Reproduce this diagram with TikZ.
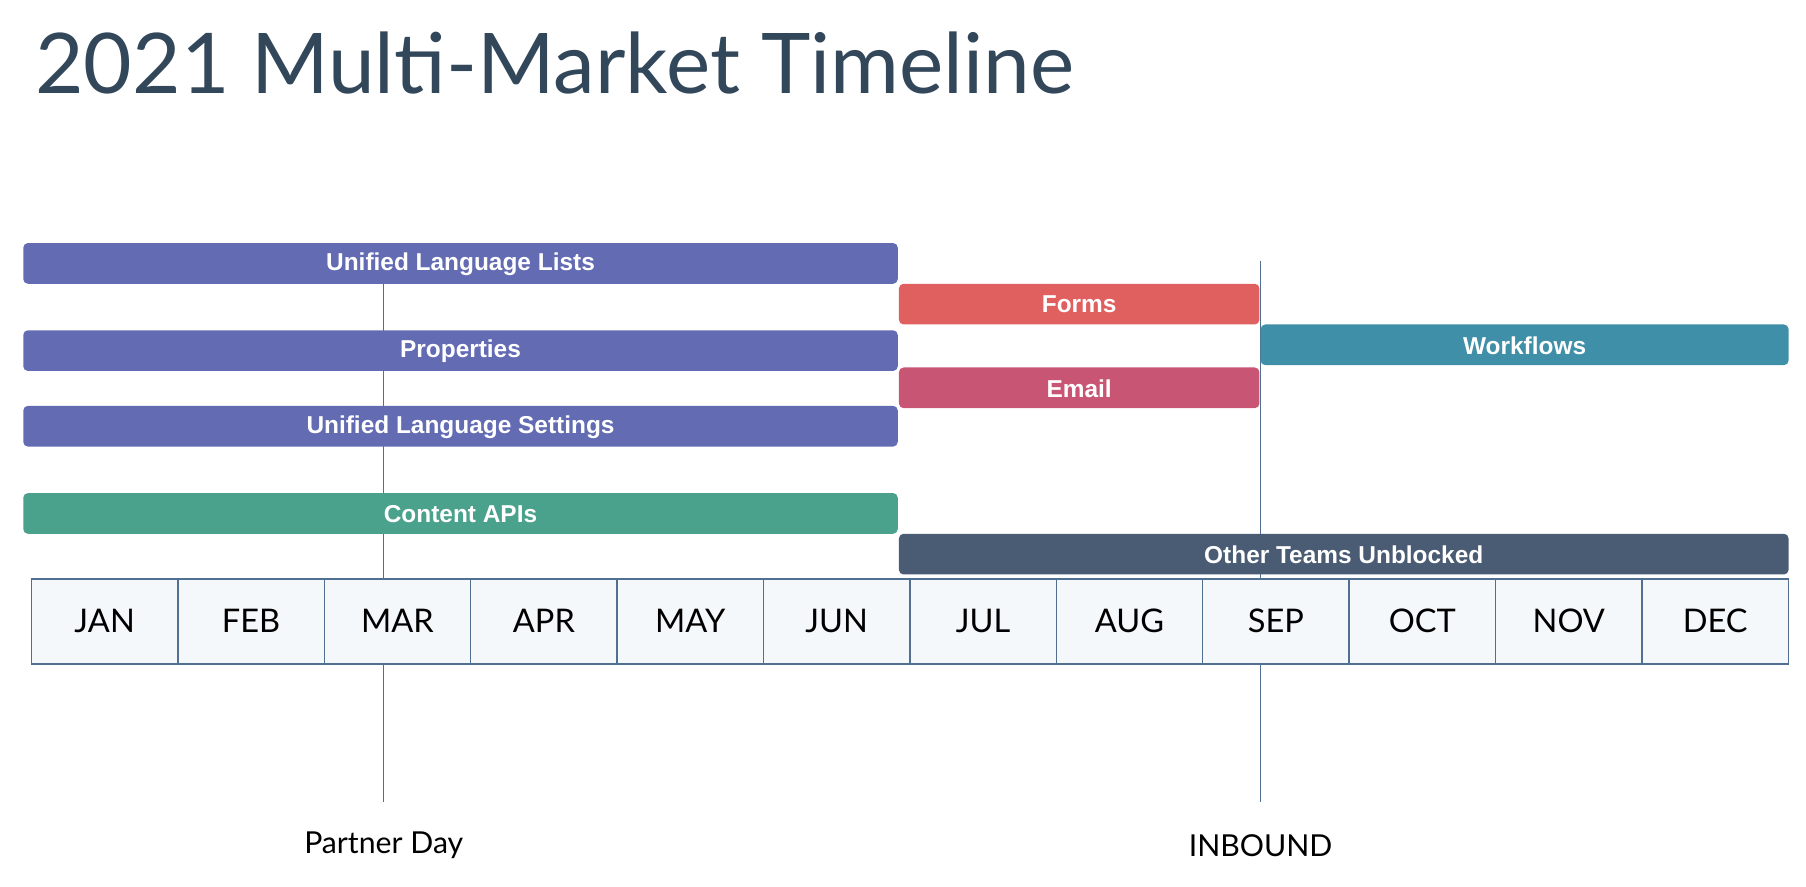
\documentclass[tikz,border=0pt]{standalone}
\usepackage{fontspec}
\setmainfont{Lato}
\newfontfamily\barfont{Liberation Sans}
\begin{document}
\begin{tikzpicture}[x=0.5pt,y=-0.5pt,
  bar/.style={rounded corners=2pt,inner sep=0pt},
  bartext/.style={text=white,font=\barfont\bfseries\fontsize{10.5}{12}\selectfont},
  cell/.style={draw=bordc,fill=cellc,line width=0.6pt},
  marker/.style={draw=bordc,line width=0.6pt}]
\definecolor{titc}{HTML}{33475B}
\definecolor{purp}{HTML}{636BB3}
\definecolor{redc}{HTML}{E06060}
\definecolor{tealc}{HTML}{3F8FA8}
\definecolor{pinkc}{HTML}{C85574}
\definecolor{grnc}{HTML}{4AA18C}
\definecolor{darkc}{HTML}{4A5B74}
\definecolor{cellc}{HTML}{F5F8FA}
\definecolor{bordc}{HTML}{516F90}
\useasboundingbox (0,0) rectangle (1553,762);
\node[anchor=base west,text=titc,font=\fontsize{36}{40}\selectfont,inner sep=0pt] (title) at (30,80) {2021 Multi-Market Timeline};
% markers
\coordinate (p1) at (330,244); \coordinate (p2) at (330,690);
\coordinate (i1) at (1084,224); \coordinate (i2) at (1084,690);
\draw[marker] (p1) -- (p2);
\draw[marker] (i1) -- (i2);
% months
\foreach \m [count=\i from 0] in {JAN,FEB,MAR,APR,MAY,JUN,JUL,AUG,SEP,OCT,NOV,DEC}{
  \draw[cell] (27+\i*125.9,498) rectangle (27+\i*125.9+125.9,571);
  \node[font=\fontsize{14}{16}\selectfont,text=black] (m\i) at (27+\i*125.9+63,534) {\m};
}
% bars
\newcommand\tlbar[7]{\fill[#5,bar] (#2,#3) rectangle (#4,#3+35);
  \node[bartext] (#1) at ({(#2+#4)/2},#3+18) {#6};}
\tlbar{ull}{20}{209}{772}{purp}{Unified Language Lists}{}
\tlbar{forms}{773}{244}{1083}{redc}{Forms}{}
\tlbar{prop}{20}{284}{772}{purp}{Properties}{}
\tlbar{wf}{1084}{279}{1538}{tealc}{Workflows}{}
\tlbar{email}{773}{316}{1083}{pinkc}{Email}{}
\tlbar{uls}{20}{349}{772}{purp}{Unified Language Settings}{}
\tlbar{capi}{20}{424}{772}{grnc}{Content APIs}{}
\tlbar{other}{773}{459}{1538}{darkc}{Other Teams Unblocked}{}
\node[font=\fontsize{13}{15}\selectfont] (pd) at (330,727) {Partner Day};
\node[font=\fontsize{13}{15}\selectfont] (inb) at (1084,727) {INBOUND};
\end{tikzpicture}
\end{document}
